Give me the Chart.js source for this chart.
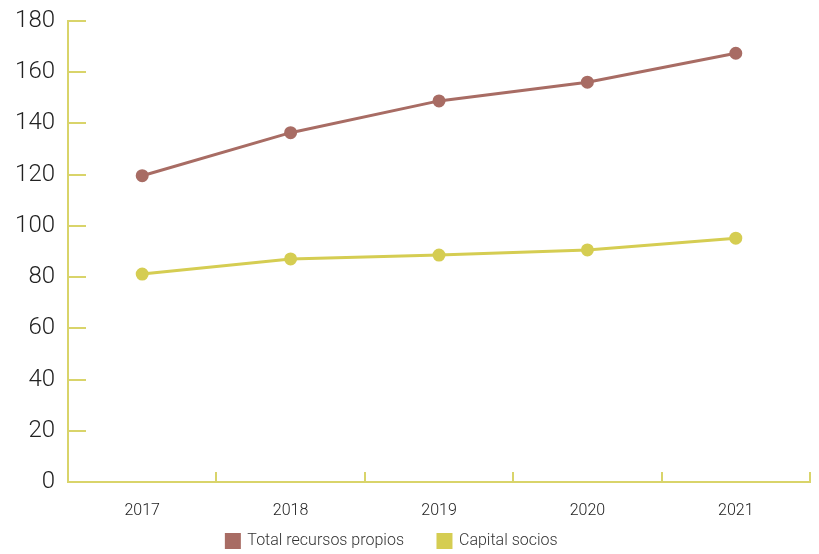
<!DOCTYPE html>
<html>
<head>
<meta charset="utf-8">
<script src="https://cdn.jsdelivr.net/npm/chart.js@4.4.0/dist/chart.umd.min.js"></script>
<style>
  html, body { margin: 0; padding: 0; background: #fff; }
  #wrap { width: 819px; height: 554px; }
</style>
</head>
<body>
<div id="wrap"><canvas id="chart"></canvas></div>
<script>
// data
const years = ["2017", "2018", "2019", "2020", "2021"];
const totalRecursos = [119.6, 136.4, 148.8, 156.1, 167.4];
const capitalSocios = [81.2, 87.1, 88.6, 90.6, 95.2];
const yTicks = [0, 20, 40, 60, 80, 100, 120, 140, 160, 180];

const axisColor = "#d9d46a";

// tick marks pointing into the plot, like the original
const inwardTicks = {
    id: "inwardTicks",
    afterDraw(chart) {
        const ctx = chart.ctx;
        const x = chart.scales.x;
        const y = chart.scales.y;
        const area = chart.chartArea;
        ctx.save();
        ctx.strokeStyle = axisColor;
        ctx.lineWidth = 2;
        ctx.beginPath();
        yTicks.forEach(function (v) {
            const py = Math.round(y.getPixelForValue(v));
            ctx.moveTo(area.left, py);
            ctx.lineTo(area.left + 18, py);
        });
        for (let i = 0; i <= years.length; i++) {
            let px;
            if (i === 0) px = area.left;
            else if (i === years.length) px = area.right;
            else px = (x.getPixelForTick(i - 1) + x.getPixelForTick(i)) / 2;
            px = Math.round(px);
            ctx.moveTo(px, area.bottom);
            ctx.lineTo(px, area.bottom - 10);
        }
        ctx.stroke();
        ctx.restore();
    }
};

// legend sits a bit left of centre in the original
const shiftLegend = {
    id: "shiftLegend",
    afterLayout(chart) {
        chart.legend.left -= 13;
        chart.legend.right -= 13;
    }
};

document.addEventListener("DOMContentLoaded", function () {
    const ctx = document.getElementById("chart").getContext("2d");

    new Chart(ctx, {
        type: "line",
        data: {
            labels: years,
            datasets: [{
                label: "Total recursos propios",
                data: totalRecursos,
                borderColor: "#a86c64",
                backgroundColor: "#a86c64",
                borderWidth: 3,
                pointRadius: 5,
                pointHoverRadius: 5,
                fill: false
            },
            {
                label: "Capital socios",
                data: capitalSocios,
                borderColor: "#d5cd52",
                backgroundColor: "#d5cd52",
                borderWidth: 3,
                pointRadius: 5,
                pointHoverRadius: 5,
                fill: false
            }]
        },
        options: {
            responsive: true,
            maintainAspectRatio: false,
            animation: false,
            layout: { padding: { top: 21, right: 9, left: 0, bottom: 0 } },
            plugins: {
                tooltip: { enabled: false },
                legend: {
                    position: "bottom",
                    maxHeight: 55,
                    labels: {
                        boxWidth: 13,
                        boxHeight: 13,
                        padding: 34,
                        color: "#333",
                        font: { family: "Roboto", size: 16, weight: 300 }
                    }
                }
            },
            scales: {
                x: {
                    offset: true,
                    grid: { display: false },
                    border: { color: axisColor, width: 2 },
                    ticks: {
                        color: "#222",
                        padding: 11,
                        font: { family: "Roboto", size: 16, weight: 300 }
                    },
                    afterFit: function (s) {
                        s.height = 17;
                        // let the year labels spill below the thin axis box
                        s._computeLabelArea = function () { return undefined; };
                    }
                },
                y: {
                    min: 0,
                    max: 180,
                    grid: { display: false },
                    border: { color: axisColor, width: 2 },
                    afterBuildTicks: function (s) { s.ticks = yTicks.map(v => ({ value: v })); },
                    ticks: {
                        color: "#222",
                        padding: 5,
                        font: { family: "Roboto", size: 24, weight: 300 }
                    },
                    afterFit: function (s) { s.width = 68; }
                }
            }
        },
        plugins: [inwardTicks, shiftLegend]
    });
});
</script>
</body>
</html>
